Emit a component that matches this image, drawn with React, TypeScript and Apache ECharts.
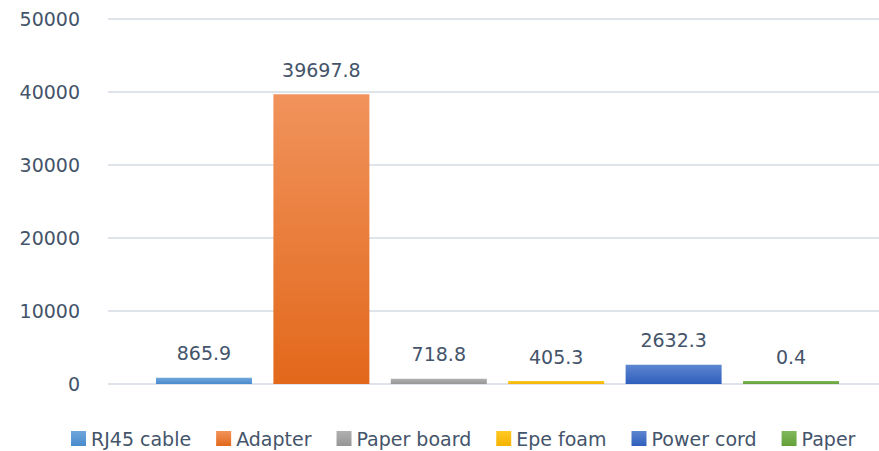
import React, { useEffect, useRef } from "react";
import * as echarts from "echarts";

const seriesNames = ["RJ45 cable", "Adapter", "Paper board", "Epe foam", "Power cord", "Paper"];
const seriesValues = [865.9, 39697.8, 718.8, 405.3, 2632.3, 0.4];
const yTicks = { min: 0, max: 50000, interval: 10000 };
const gradientTops = ["#6fa7dd", "#f1935c", "#b0b0b0", "#ffc925", "#5d86d0", "#80b95c"];
const gradientBottoms = ["#4a8bcb", "#e2681b", "#969696", "#f4b300", "#2f5fbd", "#64a039"];

const FONT = "DejaVu Sans";
const TEXT = "#44546a";

export default function App() {
  const ref = useRef<HTMLDivElement>(null);
  useEffect(() => {
    document.body.style.margin = "0";
    if (!ref.current) return;
    const chart = echarts.init(ref.current, undefined, { renderer: "svg" });
    const series = seriesNames.map((name, i) => ({
      name,
      type: "bar",
      data: [seriesValues[i]],
      barWidth: 96,
      barGap: "22.3%",
      barMinHeight: 3,
      itemStyle: {
        color: new echarts.graphic.LinearGradient(0, 0, 0, 1, [
          { offset: 0, color: gradientTops[i] },
          { offset: 1, color: gradientBottoms[i] },
        ]),
      },
      label: {
        show: true,
        position: "top",
        distance: 15,
        color: TEXT,
        fontFamily: FONT,
        fontSize: 19,
        formatter: (p: any) => String(p.value),
      },
    }));
    chart.setOption({
      animation: false,
      grid: { left: 108, top: 19, right: 0, height: 365, containLabel: false },
      legend: {
        data: seriesNames,
        top: 429,
        left: 71,
        padding: 0,
        itemWidth: 15,
        itemHeight: 15,
        itemGap: 25,
        icon: "rect",
        textStyle: { color: TEXT, fontFamily: FONT, fontSize: 19 },
      },
      xAxis: {
        type: "category",
        data: [""],
        axisLine: { show: false },
        axisTick: { show: false },
        axisLabel: { show: false },
      },
      yAxis: {
        type: "value",
        min: yTicks.min,
        max: yTicks.max,
        interval: yTicks.interval,
        axisLine: { show: false },
        axisTick: { show: false },
        axisLabel: {
          color: TEXT,
          fontFamily: FONT,
          fontSize: 19,
          margin: 28,
          formatter: (v: number) => String(v),
        },
        splitLine: { lineStyle: { color: "#dfe3ea", width: 2 } },
      },
      series,
    });
    return () => chart.dispose();
  }, []);
  return (
    <div style={{ width: 879, height: 451, overflow: "hidden" }}>
      <div ref={ref} style={{ width: 887, height: 451 }} />
    </div>
  );
}
